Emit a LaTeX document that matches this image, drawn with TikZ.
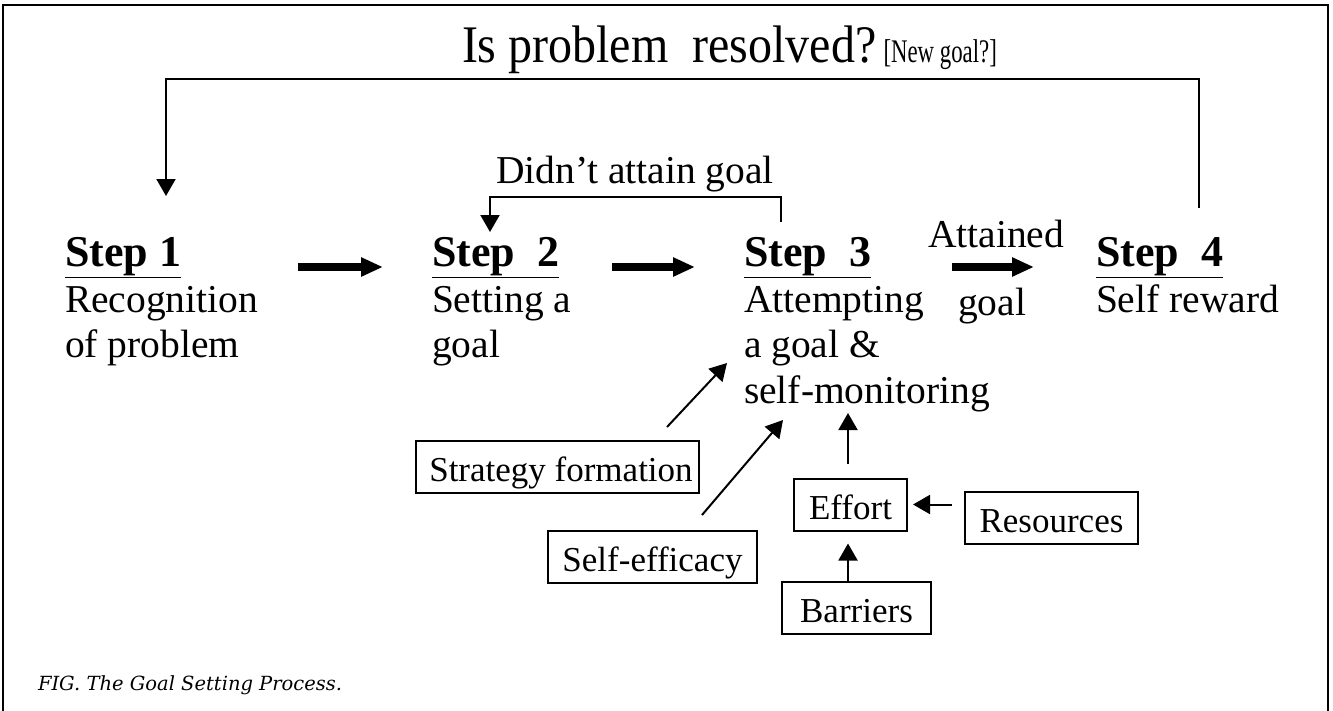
\documentclass[tikz,border=0pt]{standalone}
\usepackage{fontspec}
\usepackage{graphicx}
\setmainfont{Liberation Serif}
\newfontfamily\capfont{DejaVu Serif}
\usetikzlibrary{arrows.meta}
\begin{document}
\begin{tikzpicture}[x=1pt,y=-1pt,
  every node/.style={inner sep=0pt, outer sep=0pt},
  body/.style={anchor=base west, font=\fontsize{39.5}{45}\selectfont},
  head/.style={anchor=base west, font=\fontsize{44}{48}\selectfont\bfseries},
  box/.style={draw, line width=2pt, minimum height=52pt, text height=29pt, text depth=0pt, font=\fontsize{35}{40}\selectfont},
  thinline/.style={line width=2pt},
  bigarrow/.style={line width=7.5pt, -{Triangle[length=22pt,width=18pt]}},
  smallarrow/.style={line width=2pt, -{Triangle[length=17pt,width=19pt]}},
]
\useasboundingbox (0,0) rectangle (1333,710);
\draw[line width=2pt] (3,712) -- (3,5) -- (1328,5) -- (1328,712);

% top question
\node[anchor=base west] (q) at (462,62) {\scalebox{1}[1.1]{\fontsize{48}{50}\selectfont Is problem\ \ resolved?}\hspace{7pt}\scalebox{0.76}[1.1]{\fontsize{30}{32}\selectfont [New goal?]}};

% steps
\node[head] (h1) at (65,266) {\underline{Step 1}};
\node[head] (h2) at (432,266) {\underline{Step\ \ 2}};
\node[head] (h3) at (744,266) {\underline{Step\ \ 3}};
\node[head] (h4) at (1096,266) {\underline{Step\ \ 4}};
\node[body] (b1a) at (65,312) {Recognition};
\node[body] (b1b) at (65,357) {of problem};
\node[body] (b2a) at (432,312) {Setting a};
\node[body] (b2b) at (432,357) {goal};
\node[body] (b3a) at (744,312) {Attempting};
\node[body] (b3b) at (744,357) {a goal \&};
\node[body] (b3c) at (744,403) {self-monitoring};
\node[body] (b4a) at (1096,312) {Self reward};
\node[body] (att) at (928,247) {Attained};
\node[body] (attg) at (958,315) {goal};
\node[anchor=base, font=\fontsize{39.5}{45}\selectfont] (dn) at (635,183) {Didn’t attain goal};

% thick arrows
\coordinate (a1s) at (298,267); \coordinate (a1e) at (383,267);
\coordinate (a2s) at (612,267); \coordinate (a2e) at (695,267);
\coordinate (a3s) at (952,267); \coordinate (a3e) at (1034,267);
\draw[bigarrow] (a1s) -- (a1e);
\draw[bigarrow] (a2s) -- (a2e);
\draw[bigarrow] (a3s) -- (a3e);

% top loop
\coordinate (t4) at (1199,208); \coordinate (t1) at (166,196);
\draw[smallarrow] (t4) -- ++(0,-129) -| (t1);

% didn't attain loop
\coordinate (d3) at (781,222); \coordinate (d2) at (490,232);
\draw[smallarrow] (d3) -- ++(0,-25) -| (d2);

% boxes
\node[box, minimum width=283pt] (sf) at (557.5,467) {\hspace{7pt}Strategy formation};
\node[box, minimum width=209pt] (se) at (652.5,556.5) {Self-efficacy};
\node[box, minimum width=113pt] (ef) at (850.5,504.5) {Effort};
\node[box, minimum width=149pt] (ba) at (856.5,608) {Barriers};
\node[box, minimum width=173pt] (re) at (1051.5,517.5) {Resources};

% small arrows
\coordinate (sfs) at (667,427); \coordinate (sft) at (727,363);
\coordinate (ses) at (702,515); \coordinate (set) at (783,420);
\coordinate (efs) at (848,464); \coordinate (eft) at (848,413);
\coordinate (res) at (952,504.5);
\draw[smallarrow] (sfs) -- (sft);
\draw[smallarrow] (ses) -- (set);
\draw[smallarrow] (efs) -- (eft);
\draw[smallarrow] (ba.north -| efs) -- ([yshift=-13pt]ef.south -| efs);
\draw[smallarrow] (res) -- ([xshift=6pt]ef.east);

% caption
\node[anchor=base west, font=\capfont\itshape\fontsize{19.5}{22}\selectfont] (cap) at (38,690) {FIG. The Goal Setting Process.};
\end{tikzpicture}
\end{document}
